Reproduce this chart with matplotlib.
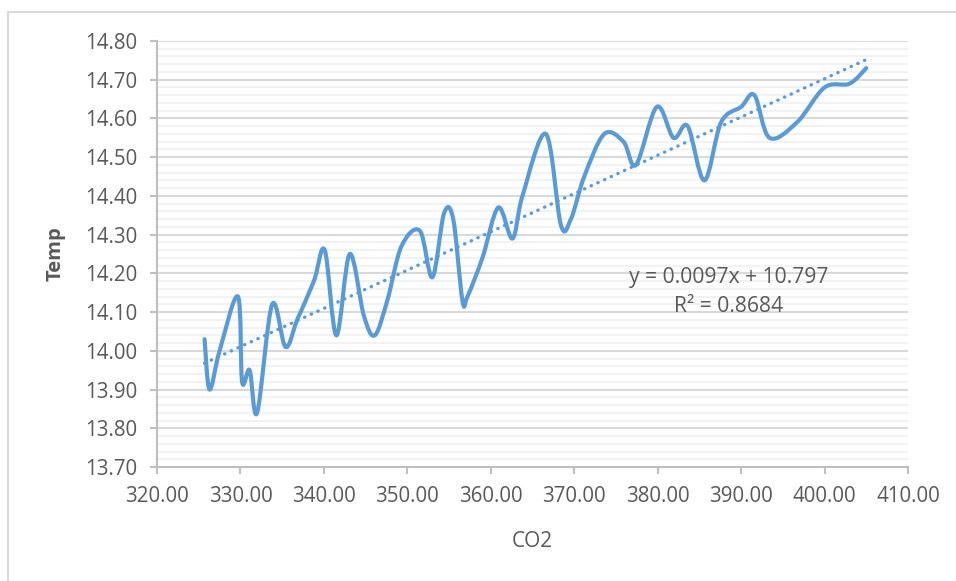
import numpy as np
import matplotlib
matplotlib.use("Agg")
import matplotlib.pyplot as plt
from matplotlib.path import Path
from matplotlib.patches import PathPatch, Rectangle
from matplotlib.ticker import MultipleLocator, FormatStrFormatter

plt.rcParams['font.family'] = ['Open Sans', 'DejaVu Sans']

co2 = [325.7, 326.3, 327.5, 329.7, 330.2, 331.1, 332.0, 333.8, 335.4, 336.8,
       338.8, 340.1, 341.5, 343.1, 344.8, 346.1, 347.6, 349.3, 351.5, 353.0,
       354.4, 355.5, 356.6, 357.2, 359.0, 360.9, 362.6, 363.8, 366.6, 368.4,
       369.6, 371.2, 373.6, 375.9, 377.4, 379.9, 381.9, 383.6, 385.6, 387.6,
       390.0, 391.6, 393.4, 396.7, 400.0, 403.0, 405.0]
temp = [14.03, 13.90, 14.00, 14.14, 13.92, 13.95, 13.84, 14.12, 14.01, 14.08,
        14.18, 14.26, 14.04, 14.25, 14.09, 14.04, 14.13, 14.27, 14.31, 14.19,
        14.355, 14.34, 14.13, 14.14, 14.24, 14.37, 14.29, 14.40, 14.56, 14.325,
        14.34, 14.45, 14.56, 14.54, 14.48, 14.63, 14.55, 14.58, 14.44, 14.59,
        14.63, 14.66, 14.55, 14.59, 14.68, 14.69, 14.73]
eq_text = "y = 0.0097x + 10.797"
r2_text = "R\u00b2 = 0.8684"

BLUE = "#5B9BD5"
GRAY_TXT = "#595959"

fig = plt.figure(figsize=(9.56, 5.81), dpi=100)
ax = fig.add_axes([157/956, 1-467/581, (908-157)/956, (467-41)/581])

# chart border
fig.patches.append(Rectangle((8/956, -0.1), 1.2, 1.1 - 12/581,
                             transform=fig.transFigure, fill=False,
                             edgecolor="#d9d9d9", linewidth=1.5))

# Excel-style smoothed line (Catmull-Rom Bezier)
P = np.column_stack([co2, temp])
n = len(P)
verts = [tuple(P[0])]
codes = [Path.MOVETO]
for i in range(n - 1):
    p0 = P[i - 1] if i > 0 else P[i]
    p1 = P[i]
    p2 = P[i + 1]
    p3 = P[i + 2] if i + 2 < n else P[i + 1]
    c1 = p1 + (p2 - p0) / 6.0
    c2 = p2 - (p3 - p1) / 6.0
    verts += [tuple(c1), tuple(c2), tuple(p2)]
    codes += [Path.CURVE4] * 3
ax.add_patch(PathPatch(Path(verts, codes), facecolor="none", edgecolor=BLUE,
                       linewidth=3.0, capstyle="round", joinstyle="round", zorder=3))

# trendline
coef = np.polyfit(co2, temp, 1)
xs = np.array([min(co2), max(co2)])
ax.plot(xs, np.polyval(coef, xs), color=BLUE, linewidth=2.4,
        linestyle=(0, (0.1, 2.1)), dash_capstyle="round", zorder=2)

ax.set_xlim(320, 410)
ax.set_ylim(13.70, 14.80)
ax.xaxis.set_major_locator(MultipleLocator(10))
ax.yaxis.set_major_locator(MultipleLocator(0.1))
ax.yaxis.set_minor_locator(MultipleLocator(0.02))
ax.xaxis.set_major_formatter(FormatStrFormatter("%.2f"))
ax.yaxis.set_major_formatter(FormatStrFormatter("%.2f"))

ax.grid(axis="y", which="major", color="#d9d9d9", linewidth=1.5, zorder=0)
ax.grid(axis="y", which="minor", color="#f2f2f2", linewidth=1.5, zorder=0)
ax.set_axisbelow(True)

for s in ["top", "right"]:
    ax.spines[s].set_visible(False)
for s in ["left", "bottom"]:
    ax.spines[s].set_color("#bfbfbf")
    ax.spines[s].set_linewidth(1.5)

ax.tick_params(axis="both", which="major", direction="out", length=5, width=1.5,
               color="#bfbfbf", labelcolor=GRAY_TXT, labelsize=14.8, pad=9)
ax.tick_params(axis="both", which="minor", length=0)
ax.tick_params(axis="x", pad=9)

ax.set_xlabel("CO2", fontsize=15, color=GRAY_TXT, labelpad=17)
ax.set_ylabel("Temp", fontsize=14.5, color=GRAY_TXT, fontweight="bold", labelpad=14)

ax.text(729/956, 1-277/581, eq_text, transform=fig.transFigure, ha="center", va="center",
        fontsize=15.2, color=GRAY_TXT)
ax.text(729/956, 1-307/581, r2_text, transform=fig.transFigure, ha="center", va="center",
        fontsize=15.2, color=GRAY_TXT)

fig.savefig("out.png", dpi=100, facecolor="white")
